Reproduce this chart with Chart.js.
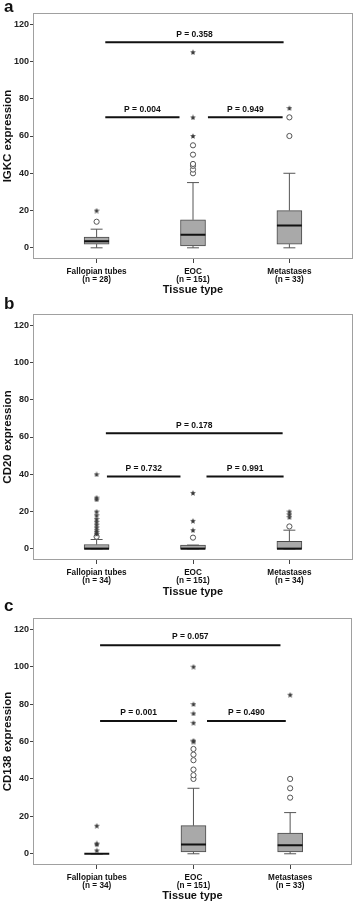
<!DOCTYPE html>
<html>
<head>
<meta charset="utf-8">
<script src="https://cdn.jsdelivr.net/npm/chart.js@4.4.1/dist/chart.umd.min.js"></script>
<style>
html,body{margin:0;padding:0;background:#fff;}
body{width:358px;height:903px;position:relative;overflow:hidden;font-family:"Liberation Sans",Arial,sans-serif;}
canvas{position:absolute;left:0;}
.lbl{position:absolute;left:4px;font-weight:bold;font-size:17px;line-height:17px;color:#111;z-index:2;}
</style>
</head>
<body>
<div class="lbl" style="top:-2px">a</div>
<div class="lbl" style="top:295px">b</div>
<div class="lbl" style="top:597px">c</div>
<canvas id="ca" width="358" height="300" style="top:0px"></canvas>
<canvas id="cb" width="358" height="300" style="top:301px"></canvas>
<canvas id="cc" width="358" height="298" style="top:605px"></canvas>
<script>
// ---------------- shared ----------------
const categories = ['Fallopian tubes', 'EOC', 'Metastases'];
const yTickValues = [0, 20, 40, 60, 80, 100, 120];
const xTitle = 'Tissue type';

// ---------------- panel a : IGKC ----------------
const aTitle = 'IGKC expression';
const aN = ['(n = 28)', '(n = 151)', '(n = 33)'];
const aLow = [0, 0, 0];
const aQ1 = [2, 1, 2];
const aMedian = [3.5, 7, 12];
const aQ3 = [5.7, 15, 20];
const aHigh = [10, 35, 40];
const aCircles = [[14], [40, 42, 44, 45, 50, 55], [60, 70]];
const aStars = [[20], [60, 70, 105], [75]];
const aPLabels = ['P = 0.358', 'P = 0.004', 'P = 0.949'];
const aPFrom = [0.09, 0.09, 1.155];
const aPTo = [1.94, 0.86, 1.93];
const aPLevel = [110.3, 70, 70];

// ---------------- panel b : CD20 ----------------
const bTitle = 'CD20 expression';
const bN = ['(n = 34)', '(n = 151)', '(n = 34)'];
const bLow = [0, 0, 0];
const bQ1 = [0, 0, 0];
const bMedian = [0, 0, 0];
const bQ3 = [2.3, 2, 4];
const bHigh = [5, 2, 10];
const bCircles = [[6.5], [6], [12]];
const bStars = [[8, 9, 10, 11.5, 13, 14.5, 16, 18, 20, 26.5, 27.5, 40], [10, 15, 30], [17, 18.5, 20]];
const bPLabels = ['P = 0.178', 'P = 0.732', 'P = 0.991'];
const bPFrom = [0.096, 0.107, 1.14];
const bPTo = [1.93, 0.87, 1.94];
const bPLevel = [62, 38.8, 38.8];

// ---------------- panel c : CD138 ----------------
const cTitle = 'CD138 expression';
const cN = ['(n = 34)', '(n = 151)', '(n = 33)'];
const cLow = [0, 0, 0];
const cQ1 = [0, 1, 1];
const cMedian = [0, 5, 4.5];
const cQ3 = [0, 15, 11];
const cHigh = [0, 35, 22];
const cCircles = [[], [40, 42, 45, 50, 53, 56], [30, 35, 40]];
const cStars = [[1.8, 5, 5.5, 15], [60, 60.5, 70, 75, 80, 100], [85]];
const cPLabels = ['P = 0.057', 'P = 0.001', 'P = 0.490'];
const cPFrom = [0.034, 0.034, 1.14];
const cPTo = [1.9, 0.83, 1.955];
const cPLevel = [111.5, 71, 71];

// ---------------- drawing ----------------
const FONT = '"Liberation Sans", Arial, sans-serif';
const CAP = 0.062;   // whisker cap half width (x units)
const HALF = 0.129;  // median half width (x units)

function makeStar(size, color) {
  const c = document.createElement('canvas');
  c.width = size; c.height = size;
  const g = c.getContext('2d');
  g.fillStyle = color;
  g.beginPath();
  const cx = size / 2, cy = size / 2 + 0.3, R = size / 2, r = R * 0.45;
  for (let k = 0; k < 10; k++) {
    const ang = -Math.PI / 2 + k * Math.PI / 5;
    const rad = k % 2 ? r : R;
    const px = cx + rad * Math.cos(ang), py = cy + rad * Math.sin(ang);
    if (k === 0) g.moveTo(px, py); else g.lineTo(px, py);
  }
  g.closePath();
  g.fill();
  return c;
}
const starImg = makeStar(6, '#3a3a3a');

const framePlugin = {
  id: 'frame',
  beforeDatasetsDraw(chart) {
    const a = chart.chartArea, ctx = chart.ctx;
    ctx.save();
    ctx.strokeStyle = '#a0a0a0';
    ctx.lineWidth = 1;
    ctx.strokeRect(Math.round(a.left) + 0.5, Math.round(a.top) + 0.5,
                   Math.round(a.right - a.left) - 1, Math.round(a.bottom - a.top) - 1);
    ctx.restore();
  }
};

function panel(id, d, L) {
  const whisk = [], caps = [], meds = [], circ = [], stars = [], boxes = [];
  categories.forEach((_, i) => {
    boxes.push({x: i, y: [d.q1[i], d.q3[i]]});
    whisk.push({x: i, y: d.low[i]}, {x: i, y: d.q1[i]}, {x: i, y: null},
               {x: i, y: d.q3[i]}, {x: i, y: d.high[i]}, {x: i, y: null});
    caps.push({x: i - CAP, y: d.low[i]}, {x: i + CAP, y: d.low[i]}, {x: i, y: null},
              {x: i - CAP, y: d.high[i]}, {x: i + CAP, y: d.high[i]}, {x: i, y: null});
    meds.push({x: i - HALF, y: d.med[i]}, {x: i + HALF, y: d.med[i]}, {x: i, y: null});
    d.circles[i].forEach(v => circ.push({x: i, y: v}));
    d.stars[i].forEach(v => stars.push({x: i, y: v}));
  });
  const sig = [];
  d.pFrom.forEach((f, k) => {
    sig.push({x: f, y: d.pLevel[k]}, {x: d.pTo[k], y: d.pLevel[k]}, {x: f, y: null});
  });

  const pLabelPlugin = {
    id: 'plabels',
    afterDatasetsDraw(chart) {
      const ctx = chart.ctx, xs = chart.scales.x, ys = chart.scales.y;
      ctx.save();
      ctx.font = 'bold 8.5px ' + FONT;
      ctx.fillStyle = '#111';
      ctx.textAlign = 'center';
      ctx.textBaseline = 'middle';
      d.pLabels.forEach((t, k) => {
        const x = xs.getPixelForValue((d.pFrom[k] + d.pTo[k]) / 2);
        const y = ys.getPixelForValue(d.pLevel[k]) - 8;
        ctx.fillText(t, x, y);
      });
      ctx.restore();
    }
  };

  const lineDs = (data, color, width, order) => ({
    type: 'line', data, borderColor: color, borderWidth: width,
    pointRadius: 0, spanGaps: false, fill: false, order
  });

  new Chart(document.getElementById(id), {
    type: 'line',
    data: {
      datasets: [
        {type: 'bar', data: boxes, backgroundColor: '#a9a9a9', borderColor: '#4a4a4a',
         borderWidth: 1, borderSkipped: false, barThickness: 25, order: 10},
        lineDs(whisk, '#555', 1, 9),
        lineDs(caps, '#555', 1, 8),
        lineDs(meds, '#111', 2, 5),
        {type: 'line', data: circ, showLine: false, pointStyle: 'circle', pointRadius: 2.6,
         pointBackgroundColor: '#fff', pointBorderColor: '#555', pointBorderWidth: 1, order: 3},
        {type: 'line', data: stars, showLine: false, pointStyle: starImg, pointRadius: 3, order: 2},
        lineDs(sig, '#111', 2, 1)
      ]
    },
    options: {
      responsive: false,
      animation: false,
      devicePixelRatio: 1,
      events: [],
      layout: {padding: {top: L.top, right: L.right, left: 0, bottom: 0}},
      plugins: {legend: {display: false}, tooltip: {enabled: false}},
      scales: {
        x: {
          type: 'linear', min: -0.66, max: L.xMax, offset: false,
          afterBuildTicks: s => { s.ticks = categories.map((_, i) => ({value: i})); },
          afterFit: s => { s.height = L.xAxisH; },
          grid: {drawOnChartArea: false, drawTicks: true, tickLength: 4, color: '#444', offset: false},
          border: {display: false},
          ticks: {
            autoSkip: false, maxRotation: 0, padding: 4.4, color: '#111',
            font: {family: FONT, size: 8.2, weight: 'bold', lineHeight: 1},
            callback: v => [categories[v], d.n[v]]
          },
          title: {display: true, text: xTitle, color: '#111',
                  font: {family: FONT, size: 11, weight: 'bold', lineHeight: 1.2},
                  padding: {top: 0, bottom: L.titlePad}}
        },
        y: {
          type: 'linear', min: -6, max: 126,
          afterBuildTicks: s => { s.ticks = yTickValues.map(v => ({value: v})); },
          afterFit: s => { s.width = 33; },
          grid: {drawOnChartArea: false, drawTicks: true, tickLength: 3, color: '#444'},
          border: {display: false},
          ticks: {padding: 1, color: '#222', font: {family: FONT, size: 9, weight: 'bold'},
                  callback: v => String(v)},
          title: {display: true, text: d.title, color: '#111',
                  font: {family: FONT, size: 11.5, weight: 'bold', lineHeight: 1.2},
                  padding: {top: 1, bottom: 0}}
        }
      }
    },
    plugins: [framePlugin, pLabelPlugin]
  });
}

panel('ca', {title: aTitle, n: aN, low: aLow, q1: aQ1, med: aMedian, q3: aQ3, high: aHigh,
             circles: aCircles, stars: aStars, pLabels: aPLabels, pFrom: aPFrom, pTo: aPTo, pLevel: aPLevel},
      {top: 13, right: 3, xMax: 2.66, xAxisH: 41, titlePad: 3.4});
panel('cb', {title: bTitle, n: bN, low: bLow, q1: bQ1, med: bMedian, q3: bQ3, high: bHigh,
             circles: bCircles, stars: bStars, pLabels: bPLabels, pFrom: bPFrom, pTo: bPTo, pLevel: bPLevel},
      {top: 13, right: 4, xMax: 2.66, xAxisH: 41, titlePad: 2.7});
panel('cc', {title: cTitle, n: cN, low: cLow, q1: cQ1, med: cMedian, q3: cQ3, high: cHigh,
             circles: cCircles, stars: cStars, pLabels: cPLabels, pFrom: cPFrom, pTo: cPTo, pLevel: cPLevel},
      {top: 13, right: 6, xMax: 2.64, xAxisH: 38, titlePad: 0.7});
</script>
</body>
</html>
